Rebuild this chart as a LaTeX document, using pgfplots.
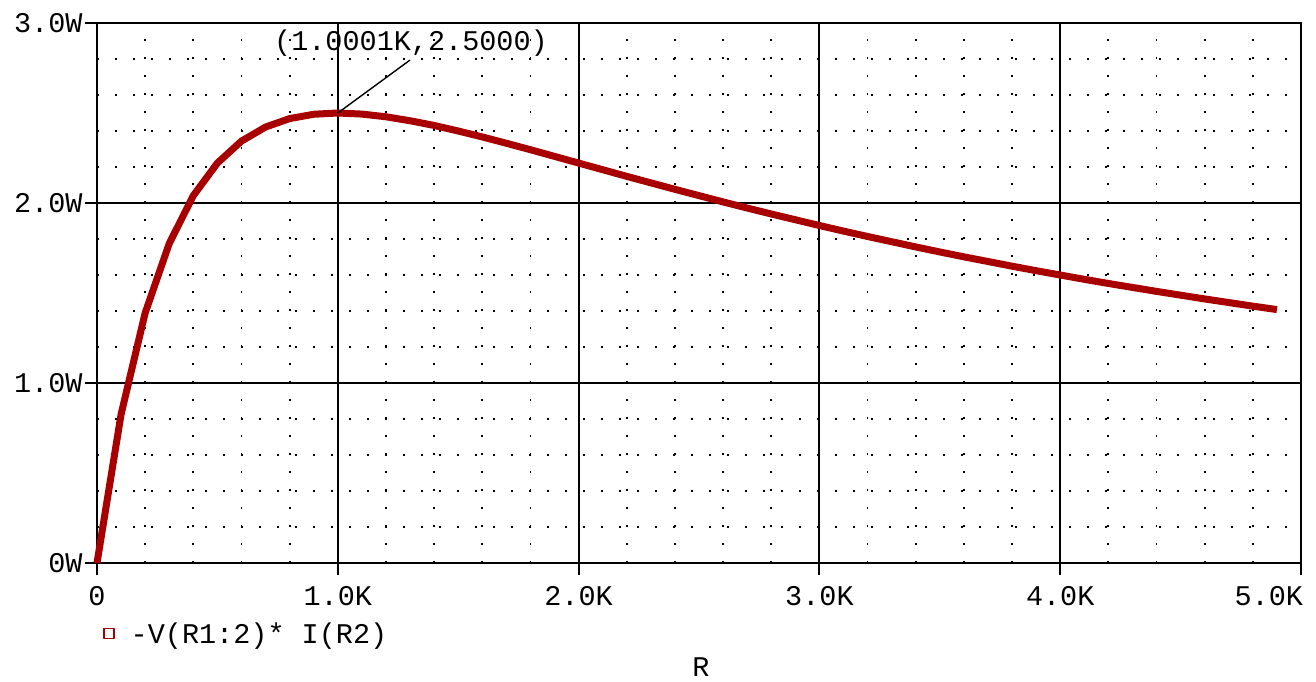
\documentclass[border=0pt]{standalone}
\usepackage{fontspec}
\setmainfont{Liberation Mono}
\usepackage{pgfplots}
\pgfplotsset{compat=1.18}
\definecolor{curve}{RGB}{168,0,0}
\begin{document}
\begin{tikzpicture}[font=\fontsize{28.5}{34}\selectfont]
\path[use as bounding box] (-97pt,-118pt) rectangle (1219pt,563pt);
\begin{axis}[
  scale only axis, width=1204pt, height=540pt,
  xmin=0, xmax=5, ymin=0, ymax=3,
  xtick={0,1,2,3,4,5},
  xticklabels={0,1.0K,2.0K,3.0K,4.0K,\makebox[0pt][r]{5.0K\hspace{-2pt}}},
  ytick={0,1,2,3},
  yticklabels={0W,1.0W,2.0W,3.0W},
  minor xtick={0.2,0.4,0.6,0.8,1.2,1.4,1.6,1.8,2.2,2.4,2.6,2.8,3.2,3.4,3.6,3.8,4.2,4.4,4.6,4.8},
  minor ytick={0.2,0.4,0.6,0.8,1.2,1.4,1.6,1.8,2.2,2.4,2.6,2.8},
  grid=both,
  major grid style={black, line width=2pt},
  minor grid style={black, line width=1.8pt, dash pattern=on 1.8pt off 16.2pt},
  axis line style={black, line width=2pt},
  tick pos=left, tick align=outside,
  major tick length=12pt, minor tick length=0pt,
  tick style={black, line width=2pt},
  /pgf/number format/assume math mode=true,
  xticklabel style={font=\fontsize{28.5}{34}\selectfont, anchor=center, yshift=-21pt},
  yticklabel style={font=\fontsize{28.5}{34}\selectfont, anchor=east, xshift=1pt},
  xlabel={R},
  xlabel style={at={(axis description cs:0.5017,-0.192)}, anchor=center, font=\fontsize{28.5}{34}\selectfont},
  legend style={at={(axis description cs:0.005,-0.131)}, anchor=west, draw=none, fill=none,
    font=\fontsize{28.5}{34}\selectfont, inner sep=0pt},
  legend cell align=left,
  legend image code/.code={\draw[curve, line width=1.5pt] (0pt,-5pt) rectangle (10pt,5pt);},
  clip=false,
]
\addplot[curve, line width=7pt, line join=round] coordinates {
(0.0,0.000) (0.1,0.826) (0.2,1.389) (0.3,1.775) (0.4,2.041) (0.5,2.222)
(0.6,2.344) (0.7,2.422) (0.8,2.469) (0.9,2.493) (1.0,2.500) (1.1,2.494)
(1.2,2.479) (1.3,2.457) (1.4,2.431) (1.5,2.400) (1.6,2.367) (1.7,2.332)
(1.8,2.296) (1.9,2.259) (2.0,2.222) (2.1,2.185) (2.2,2.148) (2.3,2.112)
(2.4,2.076) (2.5,2.041) (2.6,2.006) (2.7,1.972) (2.8,1.939) (2.9,1.907)
(3.0,1.875) (3.1,1.844) (3.2,1.814) (3.3,1.785) (3.4,1.756) (3.5,1.728)
(3.6,1.701) (3.7,1.675) (3.8,1.649) (3.9,1.624) (4.0,1.600) (4.1,1.576)
(4.2,1.553) (4.3,1.531) (4.4,1.509) (4.5,1.488) (4.6,1.467) (4.7,1.447)
(4.8,1.427) (4.9,1.408)
};
\addlegendentry{\hspace{14pt}-V(R1:2)* I(R2)}
\draw[black, line width=1.4pt] (axis cs:1.0,2.5) -- (axis cs:1.2998,2.794);
\node[anchor=center, font=\fontsize{28.5}{34}\selectfont] at (axis cs:1.304,2.889) {(1.0001K,2.5000)};
\end{axis}
\end{tikzpicture}
\end{document}
